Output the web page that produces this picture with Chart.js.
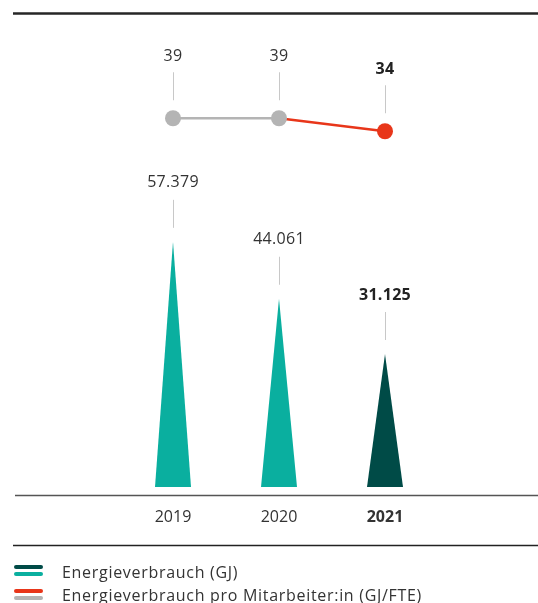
<!DOCTYPE html>
<html><head><meta charset="utf-8">
<script src="https://cdn.jsdelivr.net/npm/chart.js@4/dist/chart.umd.min.js"></script>
<style>
html,body{margin:0;padding:0;background:#fff;}
#wrap{position:relative;width:538px;height:603px;overflow:hidden;}
#c{position:absolute;left:0;top:0;}
.leg{position:absolute;left:62px;font:16px 'Open Sans',sans-serif;letter-spacing:0.7px;color:#333;line-height:20px;white-space:nowrap;}
.ic{position:absolute;left:14px;width:29px;height:4px;border-radius:2px;}
</style></head><body>
<div id="wrap">
<canvas id="c" width="538" height="603"></canvas>
<div class="ic" style="top:565px;background:#004b47"></div>
<div class="ic" style="top:572px;background:#0aaf9f"></div>
<div class="leg" style="top:562px">Energieverbrauch (GJ)</div>
<div class="ic" style="top:589px;background:#e8361a"></div>
<div class="ic" style="top:596px;background:#b4b4b4"></div>
<div class="leg" style="top:585px">Energieverbrauch pro Mitarbeiter:in (GJ/FTE)</div>
</div>
<script>
const years = ['2019', '2020', '2021'];
const energyGJ = [57379, 44061, 31125];
const perFTE = [39, 39, 34];
const highlightIndex = 2;

const TEAL = '#0aaf9f', DARK = '#004b47', RED = '#e8361a', GRAY = '#b4b4b4';
const FONT = "'Open Sans', sans-serif";

function fmt(v) { return String(v).replace(/\B(?=(\d{3})+(?!\d))/g, '.'); }

function label(ctx, text, x, y, bold) {
  ctx.fillStyle = bold ? '#222' : '#333';
  ctx.font = (bold ? 'bold ' : '') + '16px ' + FONT;
  try { ctx.letterSpacing = '0.3px'; } catch (e) {}
  ctx.textAlign = 'center'; ctx.textBaseline = 'middle';
  ctx.fillText(text, x, y);
  try { ctx.letterSpacing = '0px'; } catch (e) {}
}

const decor = {
  id: 'decor',
  afterDatasetsDraw(chart) {
    const ctx = chart.ctx;
    ctx.save();
    const barMeta = chart.getDatasetMeta(1);
    barMeta.data.forEach((el, i) => {
      const p = el.getProps(['x', 'y', 'base', 'width'], true);
      ctx.beginPath();
      ctx.moveTo(p.x - p.width / 2, p.base);
      ctx.lineTo(p.x, p.y);
      ctx.lineTo(p.x + p.width / 2, p.base);
      ctx.closePath();
      ctx.fillStyle = i === highlightIndex ? DARK : TEAL;
      ctx.fill();
      ctx.strokeStyle = '#c8c8c8'; ctx.lineWidth = 1;
      ctx.beginPath();
      ctx.moveTo(Math.round(p.x) + 0.5, p.y - 42);
      ctx.lineTo(Math.round(p.x) + 0.5, p.y - 14);
      ctx.stroke();
      label(ctx, fmt(energyGJ[i]), p.x, p.y - 59, i === highlightIndex);
    });
    const lineMeta = chart.getDatasetMeta(0);
    lineMeta.data.forEach((el, i) => {
      const p = el.getProps(['x', 'y'], true);
      ctx.strokeStyle = '#c8c8c8'; ctx.lineWidth = 1;
      ctx.beginPath();
      ctx.moveTo(Math.round(p.x) + 0.5, p.y - 46);
      ctx.lineTo(Math.round(p.x) + 0.5, p.y - 18);
      ctx.stroke();
      label(ctx, String(perFTE[i]), p.x, p.y - 62, i === highlightIndex);
    });
    ctx.restore();
  },
  afterDraw(chart) {
    const ctx = chart.ctx;
    const area = chart.chartArea;
    ctx.save();
    ctx.strokeStyle = '#262626'; ctx.lineWidth = 2.5;
    ctx.beginPath(); ctx.moveTo(13, 13.5); ctx.lineTo(chart.width, 13.5); ctx.stroke();
    ctx.strokeStyle = '#555'; ctx.lineWidth = 1.5;
    ctx.beginPath(); ctx.moveTo(15, area.bottom + 8.5); ctx.lineTo(chart.width, area.bottom + 8.5); ctx.stroke();
    ctx.strokeStyle = '#222'; ctx.lineWidth = 1.5;
    ctx.beginPath(); ctx.moveTo(13, 545.5); ctx.lineTo(chart.width, 545.5); ctx.stroke();
    ctx.restore();
  }
};

new Chart(document.getElementById('c'), {
  type: 'bar',
  data: {
    labels: years,
    datasets: [
      {
        type: 'line',
        label: 'Energieverbrauch pro Mitarbeiter:in (GJ/FTE)',
        data: perFTE,
        yAxisID: 'y2',
        borderColor: GRAY,
        borderWidth: 2.5,
        segment: { borderColor: c => c.p1DataIndex === highlightIndex ? RED : GRAY },
        pointBackgroundColor: perFTE.map((v, i) => i === highlightIndex ? RED : GRAY),
        pointBorderWidth: 0,
        pointRadius: 8,
        order: 0
      },
      {
        type: 'bar',
        label: 'Energieverbrauch (GJ)',
        data: energyGJ,
        yAxisID: 'y',
        backgroundColor: 'rgba(0,0,0,0)',
        barThickness: 36,
        order: 1
      }
    ]
  },
  options: {
    responsive: false,
    animation: false,
    devicePixelRatio: 1,
    layout: { padding: { left: 120, right: 100, top: 17, bottom: 66 } },
    plugins: { legend: { display: false }, tooltip: { enabled: false } },
    scales: {
      x: {
        offset: true,
        grid: { display: false, drawTicks: false },
        border: { display: false },
        ticks: {
          padding: 21,
          color: '#333',
          font: c => ({ family: FONT, size: 16, weight: c.index === highlightIndex ? 'bold' : 'normal' })
        },
        afterFit: s => { s.height = 50; }
      },
      y: { display: false, min: 0, max: 110000 },
      y2: { display: false, min: -103, max: 78 }
    }
  },
  plugins: [decor]
});
</script>
</body></html>
